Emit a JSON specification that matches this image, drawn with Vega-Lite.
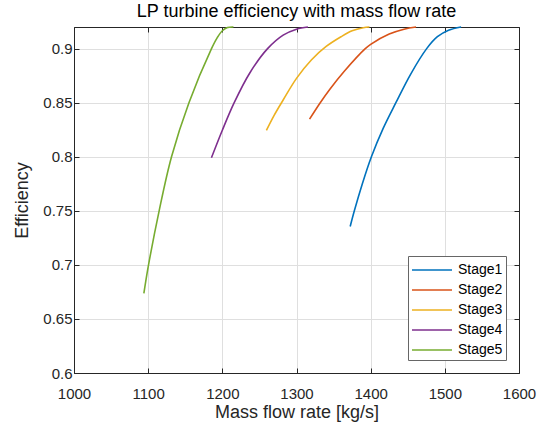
{
  "$schema": "https://vega.github.io/schema/vega-lite/v6.json",
  "width": 445,
  "height": 346,
  "autosize": {"type": "none"},
  "padding": {"left": 74, "top": 27, "right": 27, "bottom": 57},
  "background": "white",
  "title": {"text": "LP turbine efficiency with mass flow rate", "fontSize": 18, "font": "Liberation Sans", "fontWeight": "normal", "color": "#000000", "anchor": "middle", "baseline": "alphabetic", "offset": 7, "dy": 18},
  "config": {
    "font": "Liberation Sans",
    "view": {"stroke": "#262626", "strokeWidth": 1},
    "axis": {"domainColor": "#262626", "tickColor": "#262626", "labelColor": "#262626", "titleColor": "#262626", "gridColor": "#dfdfdf", "gridOpacity": 1, "labelFontSize": 15, "titleFontSize": 18, "titleFontWeight": "normal", "labelFont": "Liberation Sans", "titleFont": "Liberation Sans", "tickSize": -5, "labelFlush": false, "labelOverlap": false}
  },
  "data": {"values": [
    {"stage": "Stage1", "m": 1372.4, "e": 0.7355},
    {"stage": "Stage1", "m": 1378, "e": 0.75},
    {"stage": "Stage1", "m": 1389, "e": 0.7755},
    {"stage": "Stage1", "m": 1401, "e": 0.80},
    {"stage": "Stage1", "m": 1417, "e": 0.8265},
    {"stage": "Stage1", "m": 1434, "e": 0.85},
    {"stage": "Stage1", "m": 1454, "e": 0.8765},
    {"stage": "Stage1", "m": 1475.5, "e": 0.90},
    {"stage": "Stage1", "m": 1490, "e": 0.911},
    {"stage": "Stage1", "m": 1505, "e": 0.917},
    {"stage": "Stage1", "m": 1522, "e": 0.92},
    {"stage": "Stage2", "m": 1317.6, "e": 0.8348},
    {"stage": "Stage2", "m": 1332, "e": 0.85},
    {"stage": "Stage2", "m": 1345, "e": 0.8625},
    {"stage": "Stage2", "m": 1365, "e": 0.8795},
    {"stage": "Stage2", "m": 1392, "e": 0.8995},
    {"stage": "Stage2", "m": 1400, "e": 0.904},
    {"stage": "Stage2", "m": 1425, "e": 0.9135},
    {"stage": "Stage2", "m": 1445, "e": 0.918},
    {"stage": "Stage2", "m": 1461.2, "e": 0.92},
    {"stage": "Stage3", "m": 1259.4, "e": 0.8243},
    {"stage": "Stage3", "m": 1270, "e": 0.8385},
    {"stage": "Stage3", "m": 1282, "e": 0.8525},
    {"stage": "Stage3", "m": 1300, "e": 0.8725},
    {"stage": "Stage3", "m": 1320, "e": 0.8895},
    {"stage": "Stage3", "m": 1340, "e": 0.902},
    {"stage": "Stage3", "m": 1360, "e": 0.911},
    {"stage": "Stage3", "m": 1375, "e": 0.9165},
    {"stage": "Stage3", "m": 1390, "e": 0.9193},
    {"stage": "Stage3", "m": 1398.4, "e": 0.92},
    {"stage": "Stage4", "m": 1185.3, "e": 0.799},
    {"stage": "Stage4", "m": 1200, "e": 0.8245},
    {"stage": "Stage4", "m": 1216, "e": 0.85},
    {"stage": "Stage4", "m": 1237, "e": 0.8775},
    {"stage": "Stage4", "m": 1261, "e": 0.90},
    {"stage": "Stage4", "m": 1282, "e": 0.9125},
    {"stage": "Stage4", "m": 1300, "e": 0.918},
    {"stage": "Stage4", "m": 1315.4, "e": 0.92},
    {"stage": "Stage5", "m": 1094.2, "e": 0.6737},
    {"stage": "Stage5", "m": 1100.5, "e": 0.70},
    {"stage": "Stage5", "m": 1114.8, "e": 0.75},
    {"stage": "Stage5", "m": 1131.5, "e": 0.80},
    {"stage": "Stage5", "m": 1155, "e": 0.85},
    {"stage": "Stage5", "m": 1185.4, "e": 0.90},
    {"stage": "Stage5", "m": 1193, "e": 0.91},
    {"stage": "Stage5", "m": 1200, "e": 0.9165},
    {"stage": "Stage5", "m": 1207, "e": 0.9195},
    {"stage": "Stage5", "m": 1215, "e": 0.92}
  ]},
  "layer": [
    {
      "mark": {"type": "line", "strokeWidth": 1.6, "interpolate": "catmull-rom"},
      "encoding": {
        "x": {"field": "m", "type": "quantitative", "scale": {"domain": [1000, 1600], "nice": false, "zero": false},
          "axis": {"title": "Mass flow rate [kg/s]", "values": [1000, 1100, 1200, 1300, 1400, 1500, 1600], "format": "d", "labelPadding": 18, "titlePadding": 2, "grid": true}},
        "y": {"field": "e", "type": "quantitative", "scale": {"domain": [0.6, 0.92], "nice": false, "zero": false},
          "axis": {"title": "Efficiency", "values": [0.6, 0.65, 0.7, 0.75, 0.8, 0.85, 0.9], "format": "~g", "labelPadding": 7, "titlePadding": 11, "grid": true}},
        "color": {"field": "stage", "type": "nominal",
          "scale": {"domain": ["Stage1", "Stage2", "Stage3", "Stage4", "Stage5"], "range": ["#0072BD", "#D95319", "#EDB120", "#7E2F8E", "#77AC30"]},
          "legend": {"orient": "none", "legendX": 334, "legendY": 229, "title": null, "symbolType": "M-1,0H3", "symbolSize": 400, "symbolStrokeWidth": 1.5, "labelFontSize": 14, "labelColor": "#000000", "labelFont": "Liberation Sans", "labelOffset": 25, "strokeColor": "#666666", "fillColor": "white", "padding": 3, "rowPadding": 2}}
      }
    },
    {
      "mark": {"type": "point", "opacity": 0},
      "encoding": {
        "x": {"field": "m", "type": "quantitative", "axis": {"orient": "top", "labels": false, "title": null, "grid": false, "minExtent": 0, "maxExtent": 0, "values": [1000, 1100, 1200, 1300, 1400, 1500, 1600]}},
        "y": {"field": "e", "type": "quantitative", "axis": {"orient": "right", "labels": false, "title": null, "grid": false, "minExtent": 0, "maxExtent": 0, "values": [0.6, 0.65, 0.7, 0.75, 0.8, 0.85, 0.9]}}
      }
    }
  ],
  "resolve": {"axis": {"x": "independent", "y": "independent"}}
}
